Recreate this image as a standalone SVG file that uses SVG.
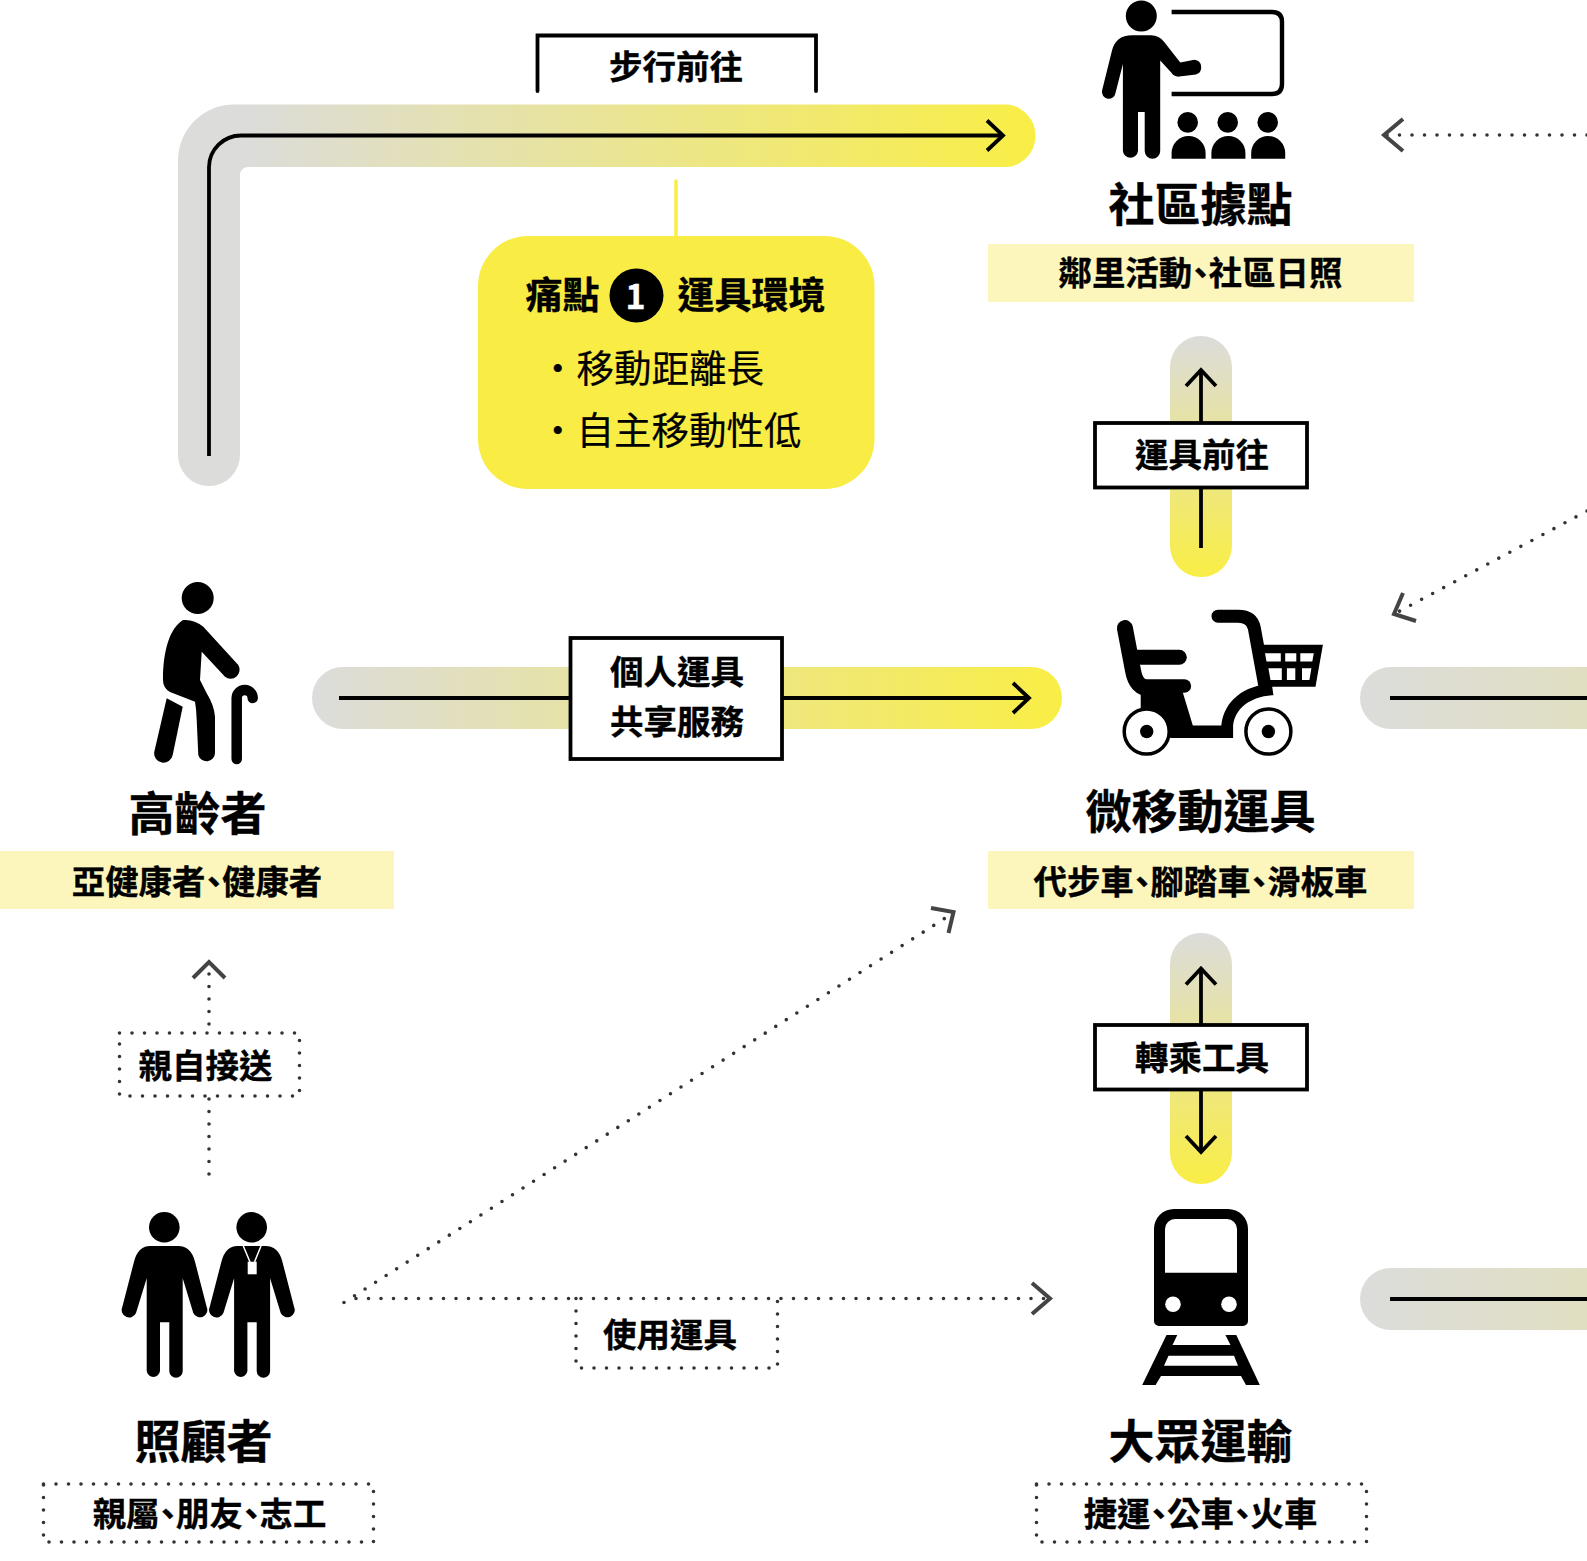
<svg xmlns="http://www.w3.org/2000/svg" width="1587" height="1561" viewBox="0 0 1587 1561">
<style>
text{font-family:"Noto Sans CJK TC","Noto Sans CJK SC",sans-serif;fill:#000;text-anchor:middle;dominant-baseline:central;font-weight:700;stroke:#000;stroke-width:.35px}
.title{font-size:46px}
.sub{font-size:33.400px;font-feature-settings:"palt"}
.lab{font-size:33.500px}
.hd{font-size:37px}
.li{font-size:37.500px;font-weight:400;text-anchor:start;stroke-width:.2px}
.band{fill:#fdf6bc}
.solid{fill:none;stroke:#000;stroke-width:3.8}
.dots{fill:none;stroke:#333;stroke-width:3.6;stroke-linecap:round;stroke-dasharray:0 12.5}
.box{fill:#fff;stroke:#000;stroke-width:3.8}
.dbox{fill:#fff;stroke:#333;stroke-width:3.6;stroke-linecap:round;stroke-dasharray:0 12.5}
.k{fill:#000}
.ks{fill:none;stroke:#000;stroke-linecap:round;stroke-linejoin:round}
.w{fill:#fff}
.ah{fill:none;stroke:#444;stroke-width:4}
</style>
<defs>
<linearGradient id="gL" gradientUnits="userSpaceOnUse" x1="240" y1="0" x2="1036" y2="0"><stop offset="0" stop-color="#dcdcdb"/><stop offset="1" stop-color="#f9ee45"/></linearGradient>
<linearGradient id="gM" gradientUnits="userSpaceOnUse" x1="312" y1="0" x2="1062" y2="0"><stop offset="0" stop-color="#dcdcdb"/><stop offset="1" stop-color="#f9ee45"/></linearGradient>
<linearGradient id="gR" gradientUnits="userSpaceOnUse" x1="1360" y1="0" x2="2700" y2="0"><stop offset="0" stop-color="#dcdcdb"/><stop offset="1" stop-color="#f9ee45"/></linearGradient>
<linearGradient id="gV" x1="0" y1="0" x2="0" y2="1"><stop offset="0" stop-color="#dcdcdb"/><stop offset="1" stop-color="#f9ee45"/></linearGradient>
<marker id="a" markerUnits="userSpaceOnUse" viewBox="-20 -20 24 40" refX="0" refY="0" markerWidth="24" markerHeight="40" orient="auto-start-reverse"><path d="M-16 -15L0 0L-16 15" fill="none" stroke="#000" stroke-width="3.8"/></marker>
</defs>

<g id="connectors">
<path fill="url(#gL)" d="M178 455V160A56 56 0 0 1 234 104.500H1008A31.500 31.500 0 0 1 1008 167H248A8 8 0 0 0 240 175V455A31 31 0 0 1 178 455Z"/>
<path class="solid" marker-end="url(#a)" d="M209 456V167A32 32 0 0 1 241 135.500H1003"/>
<rect x="312" y="667" width="750" height="62" rx="31" fill="url(#gM)"/>
<path class="solid" marker-end="url(#a)" d="M339 698H1029"/>
<rect x="1170" y="336" width="62" height="241" rx="31" fill="url(#gV)"/>
<path class="solid" marker-end="url(#a)" d="M1201 548V370"/>
<rect x="1170" y="933" width="62" height="251" rx="31" fill="url(#gV)"/>
<path class="solid" marker-start="url(#a)" marker-end="url(#a)" d="M1201 968.500V1152"/>
<rect x="1360" y="667" width="300" height="62" rx="31" fill="url(#gR)"/>
<path class="solid" d="M1390 698H1587"/>
<rect x="1360" y="1268" width="300" height="62" rx="31" fill="url(#gR)"/>
<path class="solid" d="M1390 1299H1587"/>
<path class="dots" d="M1587 135H1384"/>
<path class="ah" d="M1403 119L1384 135L1403 151"/>
<path class="dots" d="M1587 511L1398 612"/>
<path class="ah" d="M1403 593L1394 614L1416 621"/>
<path class="dots" d="M344 1302.500L950 915"/>
<path class="ah" d="M931 908L953.500 912L948.500 933"/>
<path class="dots" d="M356 1298.500H1050"/>
<path class="ah" d="M1032 1283L1050 1298.500L1032 1314"/>
<path class="dots" d="M209 1174V962"/>
<path class="ah" d="M193 978L209 962L225 978"/>
<path d="M676 181V238" fill="none" stroke="#f9ee45" stroke-width="3.500" stroke-linecap="round"/>
</g>

<g id="label-walk">
<path class="solid" stroke-linecap="round" d="M537.500 91V35.500H816V91"/>
<text class="lab" x="676" y="64">步行前往</text>
</g>
<g id="label-vehicle">
<rect class="box" x="1095" y="423" width="212" height="64.500"/>
<text class="lab" x="1202" y="452">運具前往</text>
</g>
<g id="label-share">
<rect class="box" x="570.500" y="638" width="211.500" height="121"/>
<text class="lab" x="677" y="669">個人運具</text>
<text class="lab" x="677" y="719">共享服務</text>
</g>
<g id="label-transfer">
<rect class="box" x="1095" y="1025" width="212" height="64.500"/>
<text class="lab" x="1202" y="1055">轉乘工具</text>
</g>
<g id="label-drive">
<rect class="dbox" x="119.500" y="1033" width="180" height="63"/>
<text class="lab" x="205.500" y="1063">親自接送</text>
</g>
<g id="label-use">
<path class="dbox" style="fill:none" d="M576 1298.500V1368H777.500V1298.500"/>
<text class="lab" x="670" y="1332">使用運具</text>
</g>

<g id="pain-point">
<rect x="478" y="236" width="396.500" height="253" rx="50" fill="#f9ed45"/>
<text class="hd" x="562.500" y="293">痛點</text>
<circle class="k" cx="636.500" cy="295.500" r="27"/>
<text x="635.500" y="294" font-size="34" style="fill:#fff;stroke:#fff">1</text>
<text class="hd" x="751.500" y="293">運具環境</text>
<text class="li" x="539" y="365">・移動距離長</text>
<text class="li" x="539" y="427">・自主移動性低</text>
</g>

<g id="community">
<circle class="k" cx="1141.300" cy="16" r="15.500"/>
<path class="k" d="M1132 35.300H1151Q1159 35.300 1164.200 42L1180.300 62.500L1194.500 59.800A7.500 7.500 0 0 1 1196 74.400L1179.300 76.600Q1174 77 1171 72.300L1160.200 60.500V151A7.600 7.600 0 0 1 1144.700 151V112H1138V151A7.600 7.600 0 0 1 1122.900 151V63.900L1115.500 93A6.800 6.800 0 0 1 1102 90.800L1112 50.400Q1116 35.300 1132 35.300Z"/>
<path fill="none" stroke="#000" stroke-width="4.400" d="M1171.600 12H1272Q1282 12 1282 22V84Q1282 94 1272 94H1171.600"/>
<circle class="k" cx="1187.700" cy="122.400" r="10.300"/><circle class="k" cx="1227.700" cy="122.400" r="10.300"/><circle class="k" cx="1267.700" cy="122.400" r="10.300"/>
<path class="k" d="M1171.600 158.700V153A17 17 0 0 1 1205.600 153V158.700Z"/>
<path class="k" d="M1211.400 158.700V153A17 17 0 0 1 1245.400 153V158.700Z"/>
<path class="k" d="M1251.200 158.700V153A17 17 0 0 1 1285.200 153V158.700Z"/>
<text class="title" x="1200.500" y="201">社區據點</text>
<rect class="band" x="988" y="244" width="426" height="58"/>
<text class="sub" x="1200.500" y="270.500">鄰里活動、社區日照</text>
</g>

<g id="scooter">
<g transform="translate(0 -1.500)">
<path class="ks" stroke-width="16" d="M1124.900 629.500L1133 672Q1136 690 1150 690"/>
<path class="ks" stroke-width="15" d="M1135.600 658.700H1179.300"/>
<path class="ks" stroke-width="13.500" d="M1140.700 687.600H1184.400"/>
<path class="k" d="M1140.700 688H1181L1192.800 727H1221.300C1224 702 1244 687 1271.800 685L1273.400 696.700C1250 698 1235 710 1233.100 727V739.400H1171L1140.700 725.300Z"/>
<path class="ks" stroke-width="13" d="M1218 617.700H1238Q1252 617.700 1254.300 629.500L1265 688"/>
<path class="k" d="M1261.700 646.300H1322.900L1315.500 688.300H1266.700Z"/>
<path class="w" d="M1265 654.700H1280.800V663.100H1266.500ZM1285.200 654.700H1296.300V663.100H1285.200ZM1300.300 654.700H1313.800L1312.300 663.100H1300.300ZM1268.400 669.800H1281.800V681.600H1270.500ZM1286.900 669.800H1295.300V681.600H1286.900ZM1302 669.800H1311.400L1309.400 681.600H1302Z"/>
<circle cx="1146.700" cy="733" r="22.500" fill="#fff" stroke="#000" stroke-width="3.500"/>
<circle class="k" cx="1146.700" cy="733" r="6.700"/>
<circle cx="1268.400" cy="733" r="22.500" fill="#fff" stroke="#000" stroke-width="3.500"/>
<circle class="k" cx="1268.400" cy="733" r="6.700"/>
</g>
<text class="title" x="1200.500" y="807.500">微移動運具</text>
<rect class="band" x="988" y="851" width="426" height="58"/>
<text class="sub" x="1200.500" y="879.500">代步車、腳踏車、滑板車</text>
</g>

<g id="elder">
<circle class="k" cx="197.700" cy="598" r="16"/>
<path class="k" d="M183 620C170 628 163 650 163 680Q163 688 170 692L195 701.700Q196.500 710 196.700 720L198.300 755A8.500 8.500 0 0 0 215 753V716.700Q214 705 206.700 693.300L200 680L201.700 651.700L225 676.700A9 9 0 0 0 238.300 665L203.300 626.700Q194 619 183 620Z"/>
<path class="k" d="M166.700 698.300L182.700 706.700L172.700 755A9.200 9.200 0 0 1 154.300 751.700Z"/>
<path class="ks" stroke-width="10.500" d="M236.700 759V698A8 8 0 0 1 252.700 698"/>
<text class="title" x="197.500" y="810">高齡者</text>
<rect class="band" x="0" y="851" width="394" height="58"/>
<text class="sub" x="197" y="879.500">亞健康者、健康者</text>
</g>

<g id="caregiver">
<circle class="k" cx="164.300" cy="1227.300" r="15.300"/>
<path class="k" d="M150 1246H178.300Q191 1246 195 1261.700L206.700 1307A7.300 7.300 0 0 1 193.300 1313L182.700 1278.300V1371A6.700 6.700 0 0 1 169.300 1371V1322.300H160V1371A6.700 6.700 0 0 1 146.700 1371V1278.300L136 1313A7.300 7.300 0 0 1 122.300 1307L134 1261.700Q138 1246 150 1246Z"/>
<circle class="k" cx="251.700" cy="1227.300" r="15.300"/>
<path class="k" transform="translate(87.400 0)" d="M150 1246H178.300Q191 1246 195 1261.700L206.700 1307A7.300 7.300 0 0 1 193.300 1313L182.700 1278.300V1371A6.700 6.700 0 0 1 169.300 1371V1322.300H160V1371A6.700 6.700 0 0 1 146.700 1371V1278.300L136 1313A7.300 7.300 0 0 1 122.300 1307L134 1261.700Q138 1246 150 1246Z"/>
<path d="M243.300 1246L250 1262M261 1246L254.500 1262" stroke="#fff" stroke-width="1.500" fill="none"/>
<rect class="w" x="247.700" y="1261.700" width="9" height="12.600"/>
<text class="title" x="203.500" y="1438">照顧者</text>
<rect class="dbox" x="43.500" y="1484" width="330" height="58"/>
<text class="sub" x="209.500" y="1511.500">親屬、朋友、志工</text>
</g>

<g id="transit">
<path class="k" fill-rule="evenodd" d="M1174 1209H1228A20 20 0 0 1 1248 1229V1321A5 5 0 0 1 1243 1326H1159A5 5 0 0 1 1154 1321V1229A20 20 0 0 1 1174 1209ZM1175 1219A10 10 0 0 0 1165 1229V1272.700H1237V1229A10 10 0 0 0 1227 1219Z"/>
<circle class="w" cx="1173" cy="1304.300" r="7.800"/><circle class="w" cx="1229" cy="1304.300" r="7.800"/>
<path class="k" d="M1166.500 1335H1177.300L1172.500 1345H1230.500L1225.400 1335H1236.300L1259.800 1385H1246L1241 1376H1161L1155.600 1385H1142.200ZM1168.500 1355.700L1164 1365.700H1238L1234 1355.700Z" fill-rule="evenodd"/>
<text class="title" x="1200.500" y="1438">大眾運輸</text>
<rect class="dbox" x="1036.500" y="1484" width="330" height="58"/>
<text class="sub" x="1200.500" y="1511.500">捷運、公車、火車</text>
</g>
</svg>
